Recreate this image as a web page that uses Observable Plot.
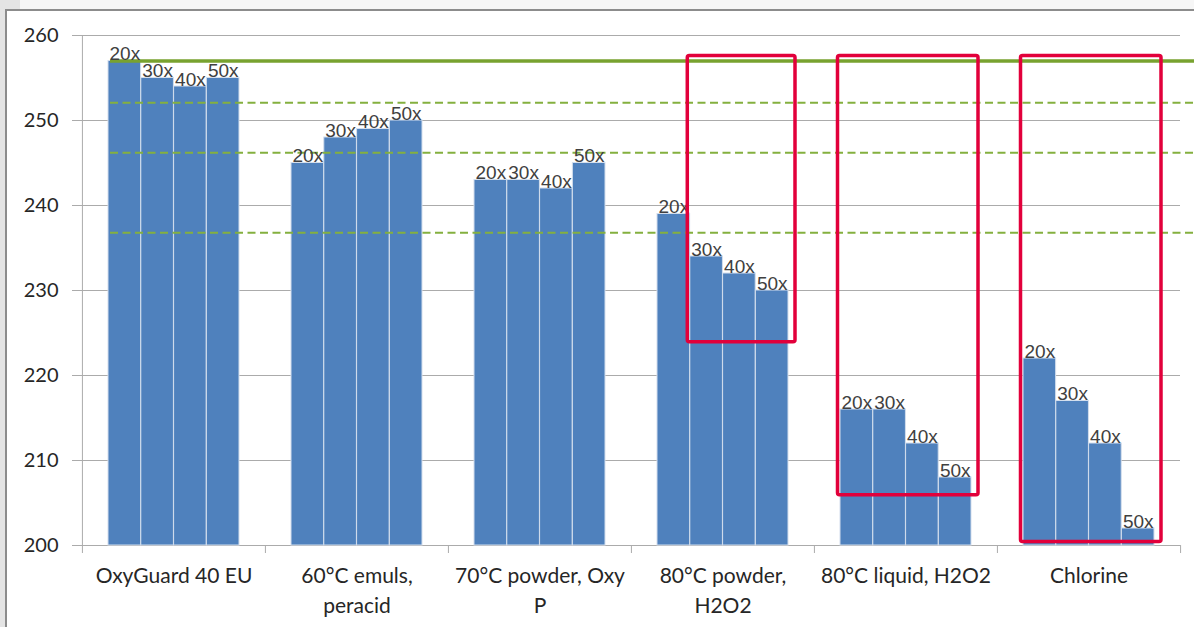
<!DOCTYPE html>
<html><head><meta charset="utf-8">
<script src="https://cdn.jsdelivr.net/npm/d3@7"></script>
<script src="https://cdn.jsdelivr.net/npm/@observablehq/plot@0.6"></script>
<style>
html,body{margin:0;padding:0;width:1194px;height:627px;overflow:hidden;background:#f6f6f6;}
#strip{position:absolute;left:0;top:0;width:5px;height:627px;background:#e4e4e4;}
#corner{position:absolute;left:0;top:0;width:20px;height:9px;background:#e4e4e4;}
#frame{position:absolute;left:5px;top:9px;width:1200px;height:640px;background:#fff;border-left:2px solid #8c8c8c;border-top:2px solid #8c8c8c;}
#chart{position:absolute;left:0;top:0;}
</style></head><body>
<div id="strip"></div><div id="corner"></div><div id="frame"></div><div id="chart"></div>
<script>
// ---- data ----
const categories = ["OxyGuard 40 EU", "60°C emuls, peracid", "70°C powder, Oxy P", "80°C powder, H2O2", "80°C liquid, H2O2", "Chlorine"];
const tickLabels = ["OxyGuard 40 EU", "60°C emuls,\nperacid", "70°C powder, Oxy\nP", "80°C powder,\nH2O2", "80°C liquid, H2O2", "Chlorine"];
const series = ["20x", "30x", "40x", "50x"];
const values20x = [257, 245, 243, 239, 216, 222];
const values30x = [255, 248, 243, 234, 216, 217];
const values40x = [254, 249, 242, 232, 212, 212];
const values50x = [255, 250, 245, 230, 208, 202];
const referenceLine = [257];
const guideLines = [252.1, 246.2, 236.8];
const boxCategories = ["80°C powder, H2O2", "80°C liquid, H2O2", "Chlorine"];
const boxFirstSeries = ["30x", "20x", "20x"];
const boxTop = [257.6, 257.6, 257.6];
const boxBottom = [223.9, 205.9, 200.4];
const yTicks = [200, 210, 220, 230, 240, 250, 260];
const yBase = 200;

// ---- layout ----
const W = 1194, H = 627, mL = 81, mR = 14, mT = 35, mB = 82;
const bw = (W - mL - mR) / categories.length;
const groupPad = 26;
const barW = (bw - 2 * groupPad) / series.length;

const seriesValues = [values20x, values30x, values40x, values50x];
const rows = [];
series.forEach((s, j) => categories.forEach((c, i) => rows.push({category: c, series: s, value: seriesValues[j][i]})));
const boxes = boxCategories.map((c, i) => ({category: c, first: series.indexOf(boxFirstSeries[i]), top: boxTop[i], bottom: boxBottom[i]}));

const gray = "#ababab";
const marks = [
  Plot.ruleY(yTicks, {stroke: gray, strokeWidth: 1, insetLeft: -9}),
  ...series.map((s, j) => Plot.barY(rows.filter(r => r.series === s), {
    x: "category", y1: yBase, y2: "value", fill: "#4f81bd", stroke: "#d3deed", strokeWidth: 1,
    insetLeft: groupPad + barW * j, insetRight: bw - groupPad - barW * (j + 1)
  })),
  Plot.ruleX([categories[0]], {x: d => d, y1: yBase, y2: 260, stroke: gray, dx: -bw / 2}),
  Plot.ruleX(categories, {x: d => d, y1: yBase, y2: yBase, insetBottom: -8, stroke: gray, dx: -bw / 2}),
  Plot.ruleX([categories[categories.length - 1]], {x: d => d, y1: yBase, y2: yBase, insetBottom: -8, stroke: gray, dx: bw / 2}),
  ...guideLines.map(v => Plot.ruleY([v], {stroke: "#84b03f", strokeWidth: 2, strokeDasharray: "8,4.5", insetLeft: 29, insetRight: -14})),
  Plot.ruleY(referenceLine, {stroke: "#78a22f", strokeWidth: 3.5, insetLeft: 29, insetRight: -14}),
  ...series.map((s, j) => Plot.text(rows.filter(r => r.series === s), {
    x: "category", y: "value", text: "series", dx: groupPad + barW * (j + 0.5) - bw / 2, dy: -1,
    lineAnchor: "bottom", fontSize: 19, fontFamily: "Liberation Sans, Arial, sans-serif", fill: "#404040"
  })),
  ...boxes.map(b => Plot.barY([b], {
    x: "category", y1: "bottom", y2: "top", fill: "none", stroke: "#e2003b", strokeWidth: 3.5, rx: 2,
    insetLeft: groupPad + barW * b.first - 2.5, insetRight: groupPad - 7
  })),
  Plot.axisY({ticks: yTicks, tickSize: 0, tickPadding: 23, fontSize: 20, fill: "#262626", label: null}),
  Plot.axisX({tickSize: 0, tickPadding: 17, fontSize: 21, lineHeight: 1.4, fill: "#262626", label: null,
    tickFormat: d => tickLabels[categories.indexOf(d)]})
];

const chart = Plot.plot({
  width: W, height: H,
  marginLeft: mL, marginRight: mR, marginTop: mT, marginBottom: mB,
  x: {type: "band", domain: categories, padding: 0},
  y: {domain: [200, 260]},
  style: {fontFamily: "Lato, sans-serif", fontSize: "20px", background: "transparent", overflow: "visible"},
  marks
});
document.getElementById("chart").appendChild(chart);
</script>
</body></html>
